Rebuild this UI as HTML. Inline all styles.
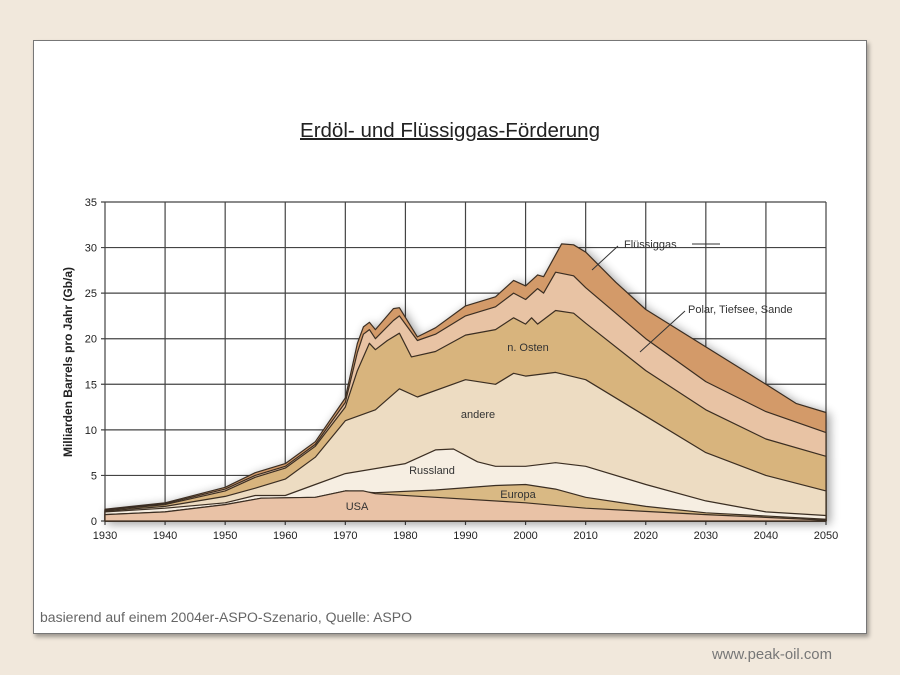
<!DOCTYPE html>
<html><head><meta charset="utf-8"><style>
html,body{margin:0;padding:0;}
body{width:900px;height:675px;background:#f1e8dc;position:relative;overflow:hidden;font-family:"Liberation Sans",sans-serif;}
#card{position:absolute;left:33px;top:40px;width:832px;height:592px;background:#fff;border:1px solid #777;box-shadow:2px 3px 4px rgba(0,0,0,0.35);}
</style></head><body>
<div id="card"></div>
<svg id="s" width="900" height="675" style="position:absolute;left:0;top:0" xmlns="http://www.w3.org/2000/svg">
<defs><filter id="sh" x="-10%" y="-20%" width="120%" height="140%"><feGaussianBlur in="SourceAlpha" stdDeviation="5"/><feOffset dx="3" dy="2"/><feComponentTransfer><feFuncA type="linear" slope="0.4"/></feComponentTransfer><feMerge><feMergeNode/><feMergeNode in="SourceGraphic"/></feMerge></filter></defs>
<text x="450" y="137" text-anchor="middle" font-size="20" fill="#222" text-decoration="underline" textLength="300" lengthAdjust="spacingAndGlyphs">Erdöl- und Flüssiggas-Förderung</text>
<text transform="translate(72,362) rotate(-90)" text-anchor="middle" font-size="12" font-weight="bold" fill="#222">Milliarden Barrels pro Jahr (Gb/a)</text>
<g id="grid"></g>
<g id="areas" filter="url(#sh)"></g>
<g id="lab" font-size="11" fill="#333"></g>
<text x="40" y="622" font-size="13.5" fill="#666" textLength="372" lengthAdjust="spacingAndGlyphs">basierend auf einem 2004er-ASPO-Szenario, Quelle: ASPO</text>
<text x="712" y="659" font-size="15" fill="#777" textLength="120" lengthAdjust="spacingAndGlyphs">www.peak-oil.com</text>
</svg>
<script>
var X0=105,X1=826,Y0=521,Y35=202;
function X(y){return X0+(y-1930)*(X1-X0)/120;}
function Y(v){return Y0-v*(Y0-Y35)/35;}
var ns="http://www.w3.org/2000/svg";
function el(t,a,p,txt){var e=document.createElementNS(ns,t);for(var k in a)e.setAttribute(k,a[k]);if(txt)e.textContent=txt;p.appendChild(e);return e;}
var g=document.getElementById('grid');
for(var y=1930;y<=2050;y+=10){el('line',{x1:X(y),x2:X(y),y1:Y35,y2:Y0+4,stroke:'#444','stroke-width':1.2},g);
el('text',{x:X(y),y:539,'text-anchor':'middle','font-size':11,fill:'#222'},g,''+y);}
for(var v=0;v<=35;v+=5){el('line',{x1:X0-4,x2:X1,y1:Y(v),y2:Y(v),stroke:'#444','stroke-width':1.2},g);
el('text',{x:X0-8,y:Y(v)+4,'text-anchor':'end','font-size':11,fill:'#222'},g,''+v);}
var L=[
{c:'#e9c2a6',d:[[1930,0.7],[1940,1.0],[1950,1.8],[1956,2.5],[1965,2.6],[1970,3.3],[1973,3.3],[1975,3.0],[1985,2.6],[2000,2.0],[2010,1.4],[2030,0.7],[2050,0.1]]},
{c:'#d9b984',d:[[1930,0.7],[1940,1.0],[1950,1.8],[1956,2.5],[1965,2.6],[1970,3.3],[1975,3.1],[1985,3.4],[1995,3.9],[2000,4.0],[2005,3.5],[2010,2.6],[2020,1.6],[2030,0.9],[2050,0.2]]},
{c:'#f6eee2',d:[[1930,1.0],[1940,1.4],[1950,2.0],[1955,2.8],[1960,2.8],[1965,4.0],[1970,5.2],[1980,6.3],[1985,7.8],[1988,7.9],[1992,6.5],[1995,6.0],[2000,6.0],[2005,6.4],[2010,6.0],[2020,4.0],[2030,2.2],[2040,1.0],[2050,0.6]]},
{c:'#eddcc2',d:[[1930,1.1],[1940,1.6],[1950,2.7],[1955,3.6],[1960,4.6],[1965,7.0],[1970,11.0],[1975,12.2],[1979,14.5],[1982,13.6],[1990,15.5],[1995,15.0],[1998,16.2],[2000,15.9],[2005,16.3],[2010,15.5],[2020,11.5],[2030,7.5],[2040,5.0],[2050,3.3]]},
{c:'#d8b47d',d:[[1930,1.2],[1940,1.8],[1950,3.3],[1955,4.8],[1960,5.8],[1965,8.2],[1970,12.5],[1972,16.5],[1974,19.5],[1975,18.8],[1977,19.8],[1979,20.6],[1981,18.0],[1985,18.6],[1990,20.4],[1995,21.0],[1998,22.3],[2000,21.6],[2001,22.3],[2002,21.6],[2005,23.1],[2008,22.8],[2010,21.7],[2020,16.5],[2030,12.2],[2040,9.0],[2050,7.1]]},
{c:'#e8c3a4',d:[[1930,1.25],[1940,1.9],[1950,3.5],[1955,5.0],[1960,6.0],[1965,8.4],[1970,13.0],[1972,18.5],[1973,20.5],[1974,21.0],[1975,20.0],[1978,22.0],[1979,22.5],[1982,19.8],[1985,20.5],[1990,22.5],[1995,23.5],[1998,25.0],[2000,24.3],[2002,25.5],[2003,25.0],[2005,27.3],[2008,26.9],[2010,25.6],[2020,20.0],[2030,15.3],[2040,12.0],[2050,9.7]]},
{c:'#d39a69',d:[[1930,1.3],[1940,2.0],[1950,3.7],[1955,5.3],[1960,6.3],[1965,8.7],[1970,13.5],[1972,19.5],[1973,21.3],[1974,21.8],[1975,21.0],[1978,23.3],[1979,23.4],[1982,20.2],[1985,21.2],[1990,23.6],[1995,24.6],[1998,26.4],[2000,25.8],[2002,27.0],[2003,26.8],[2006,30.4],[2008,30.3],[2010,29.5],[2015,26.2],[2020,23.2],[2030,19.1],[2040,15.0],[2045,12.9],[2050,11.9]]}
];
var ar=document.getElementById('areas');
for(var i=L.length-1;i>=0;i--){var d=L[i].d;var p='M'+X(1930)+','+Y(0);
d.forEach(function(q){p+=' L'+X(q[0]).toFixed(1)+','+Y(q[1]).toFixed(1);});
p+=' L'+X(2050)+','+Y(0)+' Z';el('path',{d:p,fill:L[i].c,stroke:'#3a2d22','stroke-width':1.2,'stroke-linejoin':'round'},ar);}
var lb=document.getElementById('lab');
[[357,510,'USA'],[518,498,'Europa'],[432,474,'Russland'],[478,418,'andere'],[528,351,'n. Osten'],[624,248,'Flüssiggas'],[688,313,'Polar, Tiefsee, Sande']].forEach(function(t){el('text',{x:t[0],y:t[1],'text-anchor':t[0]>600?'start':'middle','font-size':11,fill:'#333'},lb,t[2]);});
el('line',{x1:592,y1:270,x2:618,y2:246,stroke:'#333','stroke-width':1},lb);
el('line',{x1:640,y1:352,x2:685,y2:311,stroke:'#333','stroke-width':1},lb);
el('line',{x1:692,y1:244,x2:720,y2:244,stroke:'#333','stroke-width':1},lb);
</script>
</body></html>
